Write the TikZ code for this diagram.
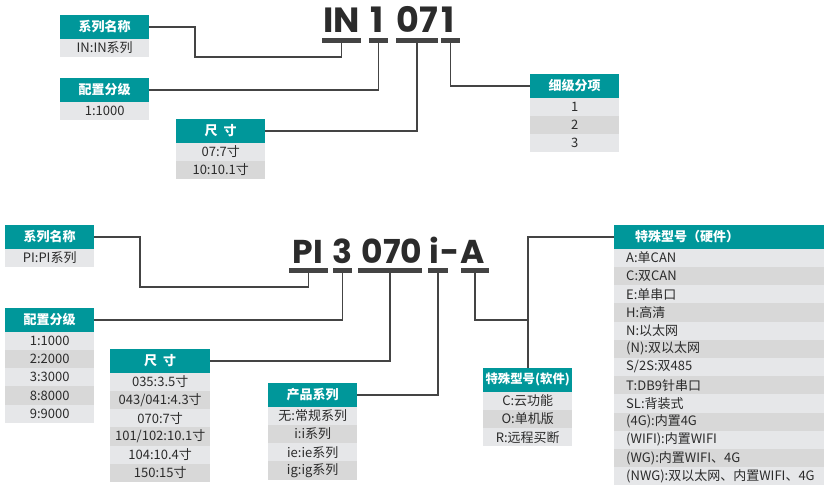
\documentclass[tikz,border=0pt]{standalone}
\usepackage{fontspec}
\setmainfont{Noto Sans CJK SC}
\newfontfamily\bigfont{Poppins}
\definecolor{teal1}{HTML}{00979A}
\definecolor{rowA}{HTML}{E6E7E9}
\definecolor{rowB}{HTML}{D8D8D8}
\definecolor{ink}{HTML}{2B2B2B}
\definecolor{wire}{HTML}{444444}
\tikzset{
  hdr/.style={fill=teal1, text=white, font=\fontsize{13}{15}\selectfont\bfseries,
    minimum height=23.5pt, inner sep=0pt},
  rowbox/.style={text=ink, font=\fontsize{13}{15}\selectfont,
    minimum height=18.2pt, inner sep=0pt},
  ctr/.style={minimum width=89pt},
  small/.style={ctr, font=\fontsize{12.4}{14}\selectfont\bfseries},
  bar/.style={fill=wire, minimum height=5pt, inner sep=0pt},
  big/.style={font=\bigfont\bfseries\fontsize{35}{40}\selectfont, text=ink, inner sep=0pt, anchor=base},
  bigb/.style={big, font=\bigfont\bfseries\fontsize{33}{38}\selectfont},
  conn/.style={draw=wire, line width=1.8pt}
}
% #1 name, #2 x, #3 y, #4 header, #5 rows, #6 header opts, #7 row opts
\newcommand\mktable[7]{%
  \node[hdr,#6,anchor=north west] (#1) at (#2,#3) {#4};
  \foreach \t [count=\i] in {#5}{%
    \ifodd\i\def\rf{rowA}\else\def\rf{rowB}\fi
    \node[rowbox,#7,fill=\rf,anchor=north west] (#1-\i) at (#2,{#3+23.5+(\i-1)*18.2}) {\t};
  }%
}
\begin{document}
\begin{tikzpicture}[x=1pt,y=-1pt]
\useasboundingbox (0,0) rectangle (824,486);

% ---------- top ----------
\mktable{T1}{60}{15}{系列名称}{{IN:IN系列}}{ctr}{ctr}
\mktable{T2}{60}{78}{配置分级}{{1:1000}}{ctr}{ctr}
\mktable{T3}{176}{119}{尺\hspace{6pt}寸}{{07:7寸},{10:10.1寸}}{ctr}{ctr}
\mktable{T4}{530}{74}{细级分项}{1,2,3}{ctr}{ctr}

\node[bar, minimum width=39pt] (tb1) at (341.5,40.5) {};
\node[bar, minimum width=19pt] (tb2) at (378.5,40.5) {};
\node[bar, minimum width=42pt] (tb3) at (417,40.5) {};
\node[bar, minimum width=19pt] (tb4) at (450.5,40.5) {};

\node[big] (tx1) at (341.5,33) {IN};
\node[big] (tx2) at (377.5,33) {1};
\node[big] (tx3) at (417.5,33) {07};
\node[big] (tx4) at (448.5,33) {1};

\draw[conn] (T1.east) -| (195,57) -| (tb1.south);
\draw[conn] (T2.east) -| (tb2.south);
\draw[conn] (T3.east) -| (tb3.south);
\draw[conn] (tb4.south) |- (T4.west);

% ---------- bottom ----------
\mktable{B1}{5}{225}{系列名称}{{PI:PI系列}}{ctr}{ctr}
\mktable{B2}{5}{308}{配置分级}{{1:1000},{2:2000},{3:3000},{8:8000},{9:9000}}{ctr}{ctr}
\mktable{B3}{110}{349}{尺\hspace{6pt}寸}{{035:3.5寸},{043/041:4.3寸},{070:7寸},{101/102:10.1寸},{104:10.4寸},{150:15寸}}{minimum width=100pt}{minimum width=100pt}
\mktable{B4}{268}{383}{产品系列}{{无:常规系列},{i:i系列},{ie:ie系列},{ig:ig系列}}{ctr}{ctr}
\mktable{B5}{483}{368}{特殊型号(软件)}{{C:云功能},{O:单机版},{R:远程买断}}{small}{ctr}
\mktable{B6}{614}{225}{特殊型号（硬件）}{{A:单CAN},{C:双CAN},{E:单串口},{H:高清},{N:以太网},{(N):双以太网},{S/2S:双485},{T:DB9针串口},{SL:背装式},{(4G):内置4G},{(WIFI):内置WIFI},{(WG):内置WIFI、4G},{(NWG):双以太网、内置WIFI、4G}}{text width=168pt, align=left, inner xsep=21pt}{text width=186pt, align=left, inner xsep=12pt}

\node[bar, minimum width=39pt] (bb1) at (308.5,270.5) {};
\node[bar, minimum width=19pt] (bb2) at (342.5,270.5) {};
\node[bar, minimum width=64pt] (bb3) at (390,270.5) {};
\node[bar, minimum width=20pt] (bb4) at (438,270.5) {};
\node[bar, minimum width=28pt] (bb5) at (475,270.5) {};

\node[bigb] (px1) at (308,263) {PI};
\node[bigb] (px2) at (342.5,263) {3};
\node[bigb] (px3) at (392,263) {070};
\node[bigb] (px4) at (434,263) {i};
\node[bigb] (px5) at (450,263) {-};
\node[bigb] (px6) at (472.5,263) {A};

\draw[conn] (B1.east) -| (140,287) -| (bb1.south);
\draw[conn] (B2.east) -| (bb2.south);
\draw[conn] (B3.east) -| (bb3.south);
\draw[conn] (B4.east) -| (bb4.south);
\coordinate (J) at (527.5,320);
\draw[conn] (bb5.south) |- (J);
\draw[conn] (B6.west) -| (B5.north);
\end{tikzpicture}
\end{document}
